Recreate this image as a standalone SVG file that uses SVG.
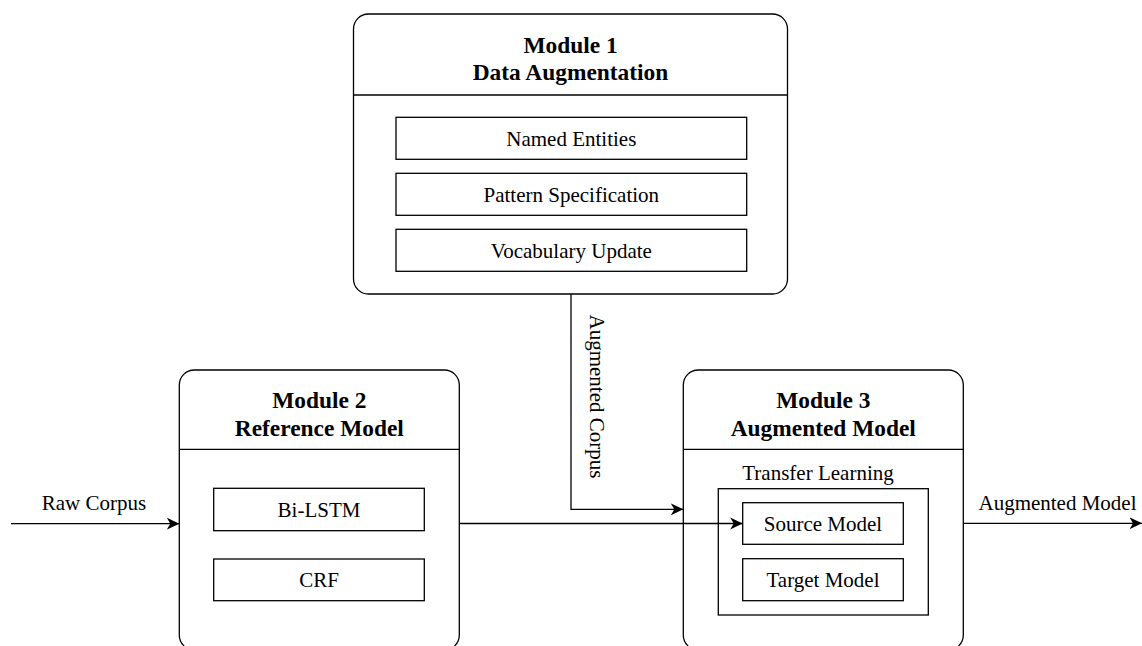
<svg xmlns="http://www.w3.org/2000/svg" width="1142" height="646" viewBox="0 0 1142 646">
<style>
.box{fill:#fff;stroke:#000;stroke-width:1.3}
.ln{fill:none;stroke:#000;stroke-width:1.3}
.t{font-family:"Liberation Serif",serif;font-size:21px;fill:#000;text-anchor:middle}
.b{font-family:"Liberation Serif",serif;font-size:23.4px;font-weight:bold;fill:#000;text-anchor:middle}
</style>
<defs>
<marker id="arr" markerUnits="userSpaceOnUse" markerWidth="16" markerHeight="14" refX="12.5" refY="6.5" orient="auto">
<path d="M0,0.5 L12.5,6.5 L0,12.5 L3.5,6.5 Z" fill="#000"/>
</marker>
</defs>
<rect width="1142" height="646" fill="#fff"/>
<g id="module1">
<rect class="box" x="353.5" y="14" width="434" height="280" rx="15"/>
<line class="ln" x1="353.5" y1="95" x2="787.5" y2="95"/>
<text class="b" x="570.5" y="52.5">Module 1</text>
<text class="b" x="570.5" y="80">Data Augmentation</text>
<rect class="box" x="396" y="117.3" width="350.7" height="42"/>
<text class="t" x="571.3" y="145.5">Named Entities</text>
<rect class="box" x="396" y="173.3" width="350.7" height="42"/>
<text class="t" x="571.3" y="201.5">Pattern Specification</text>
<rect class="box" x="396" y="229.3" width="350.7" height="42"/>
<text class="t" x="571.3" y="257.5">Vocabulary Update</text>
</g>
<g id="module2">
<rect class="box" x="179.3" y="370" width="280" height="280" rx="15"/>
<line class="ln" x1="179.3" y1="449.3" x2="459.3" y2="449.3"/>
<text class="b" x="319.3" y="407.5">Module 2</text>
<text class="b" x="319.3" y="435.5">Reference Model</text>
<rect class="box" x="213.7" y="488.3" width="210.6" height="42.4"/>
<text class="t" x="319" y="516.5">Bi-LSTM</text>
<rect class="box" x="213.7" y="559" width="210.6" height="41.7"/>
<text class="t" x="319" y="587">CRF</text>
</g>
<g id="module3">
<rect class="box" x="683.3" y="370" width="280" height="280" rx="15"/>
<line class="ln" x1="683.3" y1="449.3" x2="963.3" y2="449.3"/>
<text class="b" x="823.3" y="407.5">Module 3</text>
<text class="b" x="823.3" y="435.5">Augmented Model</text>
<text class="t" x="818" y="479.5">Transfer Learning</text>
<rect class="box" x="718.3" y="488.7" width="210" height="126.3"/>
<rect class="box" x="742.7" y="502.7" width="160.6" height="41.6"/>
<text class="t" x="823" y="530.5">Source Model</text>
<rect class="box" x="742.7" y="558.7" width="160.6" height="42"/>
<text class="t" x="823" y="586.7">Target Model</text>
</g>
<g id="connectors">
<line class="ln" x1="11" y1="523.7" x2="179.3" y2="523.7" marker-end="url(#arr)"/>
<text class="t" x="94" y="510">Raw Corpus</text>
<line class="ln" x1="459.3" y1="523.5" x2="742.7" y2="523.5" marker-end="url(#arr)"/>
<polyline class="ln" points="571,294 571,509.3 683.3,509.3" marker-end="url(#arr)"/>
<text class="t" transform="translate(590,396.5) rotate(90)" x="0" y="0">Augmented Corpus</text>
<line class="ln" x1="963.3" y1="523.3" x2="1142" y2="523.3" marker-end="url(#arr)"/>
<text class="t" x="1057.5" y="510">Augmented Model</text>
</g>
</svg>
